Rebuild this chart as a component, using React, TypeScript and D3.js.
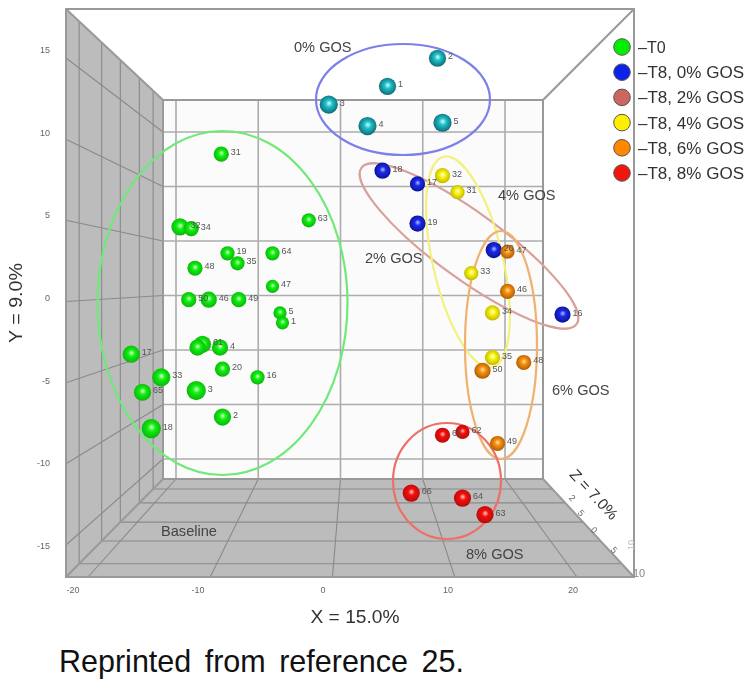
import React from "react";
import * as d3 from "d3";

// ---- data (x, y in the axis units of the front plane; the last number is the sphere radius) ----
const xTicks = [-20, -10, 0, 10, 20];
const yTicks = [15, 10, 5, 0, -5, -10, -15];
const zGridTicks = [-8.1, -4.4, -0.8, 3.5, 7.1];

type Pt = [string, number, number, number];

const t0Points: Pt[] = [
  ["31", -8.3, 8.7, 7], ["63", -1.3, 4.7, 6.5], ["32", -11.6, 4.3, 8], ["34", -10.7, 4.2, 7],
  ["19", -7.8, 2.7, 6.5], ["35", -7.0, 2.1, 6.5], ["64", -4.2, 2.7, 6.5], ["48", -10.4, 1.8, 7],
  ["47", -4.2, 0.7, 6], ["50", -10.9, -0.1, 7], ["46", -9.3, -0.1, 7.5], ["49", -6.9, -0.1, 7],
  ["5", -3.6, -0.9, 6], ["1", -3.4, -1.5, 6], ["17", -15.5, -3.4, 8], ["61", -9.8, -2.8, 8],
  ["", -10.2, -3.0, 7.5], ["4", -8.4, -3.0, 7.5], ["20", -8.2, -4.3, 7], ["16", -5.4, -4.8, 6.5],
  ["33", -13.1, -4.8, 8.5], ["65", -14.6, -5.7, 8], ["3", -10.3, -5.6, 9], ["2", -8.2, -7.2, 8],
  ["18", -13.9, -7.9, 9],
];
const t8Gos0Teal: Pt[] = [
  ["3", 0.3, 11.7, 8.5], ["1", 5.0, 12.8, 8], ["2", 9.0, 14.5, 8], ["4", 3.4, 10.4, 8.5], ["5", 9.4, 10.6, 8.5],
];
const t8Gos2Blue: Pt[] = [
  ["18", 4.6, 7.7, 7.5], ["17", 7.4, 6.9, 7], ["19", 7.4, 4.5, 7.5], ["20", 13.5, 2.9, 7.5], ["16", 19.0, -1.0, 7.5],
];
const t8Gos4Yellow: Pt[] = [
  ["32", 9.4, 7.4, 7], ["31", 10.6, 6.4, 6.5], ["33", 11.7, 1.5, 6.5], ["34", 13.4, -0.9, 7], ["35", 13.4, -3.6, 7],
];
const t8Gos6Orange: Pt[] = [
  ["47", 14.6, 2.8, 6.5], ["46", 14.6, 0.4, 7], ["50", 12.6, -4.4, 7.5], ["48", 15.9, -3.9, 7], ["49", 13.8, -8.8, 7],
];
const t8Gos8Red: Pt[] = [
  ["61", 9.4, -8.3, 7], ["62", 11.0, -8.1, 6.5], ["66", 6.9, -11.8, 8], ["64", 11.0, -12.1, 8], ["63", 12.8, -13.1, 8],
];

const legendLabels = ["\u2013T0", "\u2013T8, 0% GOS", "\u2013T8, 2% GOS", "\u2013T8, 4% GOS", "\u2013T8, 6% GOS", "\u2013T8, 8% GOS"];
const legendColors = ["#00ee00", "#0a22e8", "#cc6660", "#ffee00", "#ff8800", "#f01808"];
const zLabels: [string, number, number][] = [["5", 612, 549], ["0", 592, 529], ["5", 579, 512], ["2", 570, 497]];

const W = 750, H = 684;

// front and back frames of the box
const F = { l: 66, r: 634, t: 9, b: 577 };
const B = { l: 163, r: 543, t: 100, b: 479 };

const xFront = d3.scaleLinear().domain([-20, 20]).range([75, 575]);
const yFront = d3.scaleLinear().domain([-15, 15]).range([546, 50]);
const xBack = d3.scaleLinear().domain([-20, 20]).range([176, 505]);
const yBack = d3.scaleLinear().domain([-15, 15]).range([459, 132]);
const xGridFront = d3.scaleLinear().domain([-20, 20]).range([88, 577]);
const yGridFront = d3.scaleLinear().domain([15, -15]).range([58, 545]);

// perspective fraction along the depth of the box, 0 = front, 1 = back
const zDepth = d3.scaleLinear().domain([-10, 10]).range([0, 1]);
const persp = (z: number) => {
  const s = 1 / (1 + 0.495 * zDepth(z));
  return (1 - s) / (1 - 1 / 1.495);
};
const lerp = d3.interpolateNumber;

const groups = [
  { id: "g", pts: t0Points, c0: "#d8ffd0", c1: "#14f014", c2: "#04b004" },
  { id: "t", pts: t8Gos0Teal, c0: "#d0ffff", c1: "#20c0c8", c2: "#0c6470" },
  { id: "b", pts: t8Gos2Blue, c0: "#b8c0ff", c1: "#1a2ae8", c2: "#0c1090" },
  { id: "y", pts: t8Gos4Yellow, c0: "#fffff0", c1: "#f8f410", c2: "#c0b000" },
  { id: "o", pts: t8Gos6Orange, c0: "#ffe8a0", c1: "#f89010", c2: "#a85800" },
  { id: "r", pts: t8Gos8Red, c0: "#ffc8b8", c1: "#f41010", c2: "#b00404" },
];

const ellipses = [
  { cx: 222.5, cy: 303, rx: 125, ry: 172, rot: 0, c: "#6fe87a" },
  { cx: 403, cy: 99.5, rx: 87, ry: 55.5, rot: 0, c: "#7c80e8" },
  { cx: 469, cy: 246, rx: 133, ry: 33, rot: 36, c: "#d8a09c" },
  { cx: 468, cy: 262, rx: 35, ry: 108, rot: -13, c: "#f4f080" },
  { cx: 501, cy: 345, rx: 36, ry: 114, rot: 0, c: "#f0b070" },
  { cx: 447, cy: 481, rx: 54, ry: 58, rot: 0, c: "#ec7068" },
];

const notes: [string, number, number][] = [
  ["0% GOS", 294, 52], ["4% GOS", 498, 200], ["2% GOS", 365, 263], ["6% GOS", 552, 395], ["8% GOS", 466, 559],
];

const sans = "'Liberation Sans', Arial, sans-serif";
const gridC = "#8a8a8a";
const rad = (r: number) => r + 0.6;

export default function App() {
  const zs = zGridTicks.map(persp);
  return (
    <svg width={W} height={H} style={{ position: "absolute", left: 0, top: 0, background: "#fff" }} fontFamily={sans}>
      <defs>
        <filter id="soft" x="-5%" y="-5%" width="110%" height="110%">
          <feGaussianBlur stdDeviation="0.7" />
        </filter>
        {groups.map((g) => (
          <radialGradient key={g.id} id={"s" + g.id} cx="50%" cy="48%" r="55%" fx="52%" fy="42%">
            <stop offset="0%" stopColor={g.c0} />
            <stop offset="35%" stopColor={g.c1} />
            <stop offset="100%" stopColor={g.c2} />
          </radialGradient>
        ))}
      </defs>
      <g filter="url(#soft)">
        {/* walls */}
        <rect x={B.l} y={B.t} width={B.r - B.l} height={B.b - B.t} fill="#fbfbfb" />
        <polygon points={`${F.l},${F.t} ${B.l},${B.t} ${B.l},${B.b} ${F.l},${F.b}`} fill="#bcbcbc" />
        <polygon points={`${F.l},${F.b} ${B.l},${B.b} ${B.r},${B.b} ${F.r},${F.b}`} fill="#bcbcbc" />

        {/* back wall grid */}
        {xTicks.map((t) => (
          <line key={t} x1={xBack(t)} x2={xBack(t)} y1={B.t} y2={B.b} stroke="#acacac" strokeWidth={1.6} />
        ))}
        {yTicks.map((t) => (
          <line key={t} x1={B.l} x2={B.r} y1={yBack(t)} y2={yBack(t)} stroke="#acacac" strokeWidth={1.6} />
        ))}
        {/* left wall grid */}
        {yTicks.map((t) => (
          <line key={t} x1={F.l} x2={B.l} y1={yGridFront(t)} y2={yBack(t)} stroke={gridC} strokeWidth={1.1} />
        ))}
        {zs.map((f, i) => {
          const x = lerp(F.l, B.l)(f);
          return <line key={i} x1={x} x2={x} y1={lerp(F.t, B.t)(f)} y2={lerp(F.b, B.b)(f)} stroke={gridC} strokeWidth={1.1} />;
        })}
        {/* floor grid */}
        {xTicks.map((t) => (
          <line key={t} x1={xGridFront(t)} x2={xBack(t)} y1={F.b} y2={B.b} stroke={gridC} strokeWidth={1.1} />
        ))}
        {zs.map((f, i) => {
          const y = lerp(F.b, B.b)(f);
          return <line key={i} x1={lerp(F.l, B.l)(f)} x2={lerp(F.r, B.r)(f)} y1={y} y2={y} stroke={gridC} strokeWidth={1.1} />;
        })}

        {/* box edges */}
        <g stroke="#999" strokeWidth={2} fill="none">
          <rect x={F.l} y={F.t} width={F.r - F.l} height={F.b - F.t} />
          <rect x={B.l} y={B.t} width={B.r - B.l} height={B.b - B.t} />
          <line x1={F.l} y1={F.t} x2={B.l} y2={B.t} />
          <line x1={F.r} y1={F.t} x2={B.r} y2={B.t} />
          <line x1={F.l} y1={F.b} x2={B.l} y2={B.b} />
          <line x1={F.r} y1={F.b} x2={B.r} y2={B.b} />
        </g>

        {/* tick labels */}
        <g fontSize={9} fill="#666">
          {xTicks.map((t) => (
            <text key={t} x={xFront(t) - 2} y={593} textAnchor="middle">{t}</text>
          ))}
          {yTicks.map((t) => (
            <text key={t} x={50} y={yFront(t) + 3} textAnchor="end">{t}</text>
          ))}
          <text x={633} y={577} fontSize={11} fill="#888">10</text>
          <text transform="translate(634,545) rotate(-90)" textAnchor="middle" fill="#bbb">10</text>
          {zLabels.map(([s, x, y], i) => (
            <text key={i} transform={`translate(${x},${y + 3}) rotate(47)`} textAnchor="middle">{s}</text>
          ))}
        </g>

        {/* ellipses */}
        {ellipses.map((e, i) => (
          <ellipse key={i} cx={e.cx} cy={e.cy} rx={e.rx} ry={e.ry} transform={`rotate(${e.rot} ${e.cx} ${e.cy})`}
            fill="none" stroke={e.c} strokeWidth={2.2} />
        ))}

        {/* spheres */}
        {groups.map((g) => (
          <g key={g.id}>
            {g.pts.map(([, x, y, r], i) => (
              <circle key={i} cx={xFront(x)} cy={yFront(y)} r={rad(r)} fill={`url(#s${g.id})`} />
            ))}
          </g>
        ))}
        {/* point labels, drawn over every sphere */}
        <g fontSize={9} fill="#555">
          {groups.map((g) =>
            g.pts.map(([label, x, y, r], i) =>
              label ? <text key={g.id + i} x={xFront(x) + rad(r) + 2} y={yFront(y) + 1}>{label}</text> : null
            )
          )}
        </g>

        {/* annotations */}
        <g fontSize={14.6} fill="#444">
          {notes.map(([s, x, y]) => (
            <text key={s} x={x} y={y}>{s}</text>
          ))}
          <text x={161} y={536}>Baseline</text>
        </g>

        {/* axis titles */}
        <g fill="#333">
          <text x={355} y={623} fontSize={19} textAnchor="middle" textLength={89} lengthAdjust="spacingAndGlyphs">X = 15.0%</text>
          <text transform="translate(22,303) rotate(-90)" fontSize={19} textAnchor="middle" textLength={80} lengthAdjust="spacingAndGlyphs">Y = 9.0%</text>
          <text transform="translate(590,498) rotate(47)" fontSize={15.5} textAnchor="middle">Z = 7.0%</text>
        </g>

        {/* legend */}
        {legendLabels.map((s, i) => (
          <g key={s}>
            <circle cx={622} cy={47 + i * 25.2} r={8.3} fill={legendColors[i]} stroke="#555" strokeWidth={1} />
            <text x={638} y={53 + i * 25.2} fontSize={16} fill="#333" textLength={s.length > 4 ? 106 : undefined} lengthAdjust="spacingAndGlyphs">{s}</text>
          </g>
        ))}
      </g>

      <text x={59} y={672} fontSize={30.5} fill="#111" wordSpacing={5}>Reprinted from reference 25.</text>
    </svg>
  );
}
